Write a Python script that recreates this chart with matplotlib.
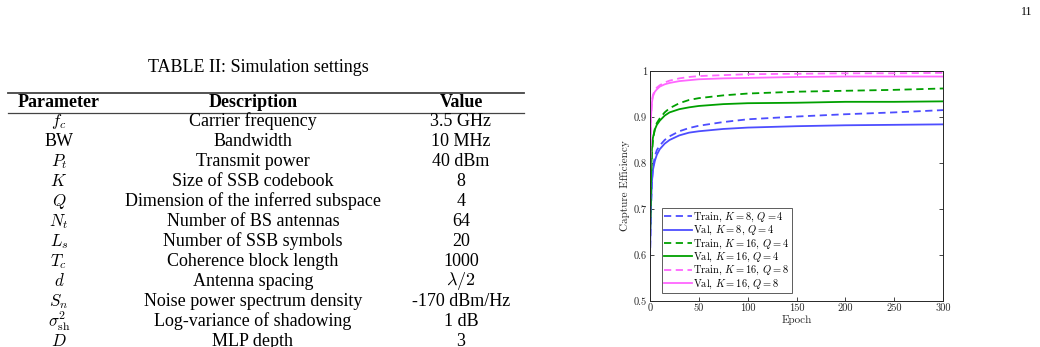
import matplotlib
matplotlib.use("Agg")
import matplotlib.pyplot as plt
from matplotlib.lines import Line2D
from matplotlib.ticker import FuncFormatter, MultipleLocator

plt.rcParams['mathtext.fontset'] = 'cm'

# ---------------- data ----------------
table_title = "TABLE II: Simulation settings"
table_header = ["Parameter", "Description", "Value"]
param_symbols = [r"$f_c$", "BW", r"$P_t$", r"$K$", r"$Q$", r"$N_t$", r"$L_s$",
                 r"$T_c$", r"$d$", r"$S_n$", r"$\sigma^2_{\rm sh}$", r"$D$"]
param_desc = ["Carrier frequency", "Bandwidth", "Transmit power", "Size of SSB codebook",
              "Dimension of the inferred subspace", "Number of BS antennas",
              "Number of SSB symbols", "Coherence block length", "Antenna spacing",
              "Noise power spectrum density", "Log-variance of shadowing", "MLP depth"]
param_values = ["3.5 GHz", "10 MHz", "40 dBm", "8", "4", "64", "20", "1000",
                r"$\lambda/2$", "-170 dBm/Hz", "1 dB", "3"]

epochs = [0, 1, 2, 3, 5, 7, 10, 15, 20, 30, 40, 50, 75, 100, 150, 200, 250, 300]
train_k8_q4 = [0.59, 0.70, 0.76, 0.79, 0.815, 0.828, 0.838, 0.850, 0.858, 0.869, 0.876,
               0.881, 0.889, 0.895, 0.901, 0.906, 0.910, 0.915]
val_k8_q4 = [0.60, 0.71, 0.76, 0.785, 0.805, 0.818, 0.830, 0.842, 0.850, 0.860, 0.866,
             0.869, 0.874, 0.877, 0.880, 0.882, 0.883, 0.884]
train_k16_q4 = [0.63, 0.76, 0.82, 0.85, 0.875, 0.887, 0.897, 0.910, 0.919, 0.930, 0.937,
                0.941, 0.947, 0.951, 0.955, 0.957, 0.959, 0.962]
val_k16_q4 = [0.64, 0.77, 0.83, 0.855, 0.873, 0.883, 0.892, 0.903, 0.910, 0.917, 0.921,
              0.924, 0.928, 0.930, 0.931, 0.933, 0.933, 0.934]
train_k16_q8 = [0.76, 0.90, 0.935, 0.948, 0.958, 0.964, 0.969, 0.975, 0.979, 0.984, 0.987,
                0.989, 0.991, 0.993, 0.994, 0.995, 0.995, 0.996]
val_k16_q8 = [0.77, 0.90, 0.932, 0.945, 0.955, 0.960, 0.966, 0.971, 0.974, 0.978, 0.980,
              0.982, 0.984, 0.985, 0.987, 0.988, 0.988, 0.988]

series = [
    (r"Train, $K = 8$, $Q = 4$", train_k8_q4, "#4d4dff", "--"),
    (r"Val, $K = 8$, $Q = 4$", val_k8_q4, "#4d4dff", "-"),
    (r"Train, $K = 16$, $Q = 4$", train_k16_q4, "#00a000", "--"),
    (r"Val, $K = 16$, $Q = 4$", val_k16_q4, "#00a000", "-"),
    (r"Train, $K = 16$, $Q = 8$", train_k16_q8, "#ff66ff", "--"),
    (r"Val, $K = 16$, $Q = 8$", val_k16_q8, "#ff66ff", "-"),
]

# ---------------- figure ----------------
W, H = 1040, 347
fig = plt.figure(figsize=(W / 100, H / 100), dpi=100)
fig.patch.set_facecolor("white")

def fx(px):
    return px / W

def fy(py):
    return 1 - py / H

serif = "Liberation Serif"
tfs = 13.0
sfs = 12.2

# page number
fig.text(fx(1027), fy(12), "11", family=serif, fontsize=8.5, ha="center", va="center")

# table
fig.text(fx(258), fy(68), table_title, family=serif, fontsize=tfs, ha="center", va="center")
fig.add_artist(Line2D([fx(8), fx(524)], [fy(92.5), fy(92.5)], color="#444444", lw=1.3))
fig.add_artist(Line2D([fx(8), fx(524)], [fy(112.5), fy(112.5)], color="#444444", lw=0.9))
col_x = [59, 253, 461]
for cx, h in zip(col_x, table_header):
    fig.text(fx(cx), fy(102), h, family=serif, fontsize=tfs, weight="bold",
             ha="center", va="center")
for i, (s, d, v) in enumerate(zip(param_symbols, param_desc, param_values)):
    y = 121.5 + 20 * i
    sym_size = sfs if s.startswith("$") else tfs
    fig.text(fx(col_x[0]), fy(y), s, family=serif, fontsize=sym_size, ha="center", va="center")
    fig.text(fx(col_x[1]), fy(y), d, family=serif, fontsize=tfs, ha="center", va="center")
    fig.text(fx(col_x[2]), fy(y), v, family=serif, fontsize=tfs, ha="center", va="center")

# chart
ax_l, ax_r, ax_t, ax_b = 650, 943, 71, 301
ax = fig.add_axes([fx(ax_l), fy(ax_b), fx(ax_r) - fx(ax_l), fy(ax_t) - fy(ax_b)])
for lab, vals, col, ls in series:
    if ls == "--":
        ax.plot(epochs, vals, color=col, ls=ls, lw=1.3, dashes=(4, 2.5), label=lab)
    else:
        ax.plot(epochs, vals, color=col, ls=ls, lw=1.3, label=lab)

ax.set_xlim(0, 300)
ax.set_ylim(0.5, 1.0)
ax.xaxis.set_major_locator(MultipleLocator(50))
ax.yaxis.set_major_locator(MultipleLocator(0.1))
ax.yaxis.set_major_formatter(FuncFormatter(lambda v, p: "%g" % round(v, 2)))
ax.tick_params(direction="in", top=True, right=True, length=3, width=0.6,
               labelsize=7.5, pad=2, colors="#262626")
for lbl in ax.get_xticklabels() + ax.get_yticklabels():
    lbl.set_family("cmr10")
for sp in ax.spines.values():
    sp.set_linewidth(0.7)
    sp.set_color("#262626")
ax.set_xlabel("Epoch", family="cmr10", fontsize=8, labelpad=1, color="#262626")
ax.set_ylabel("Capture Efficiency", family="cmr10", fontsize=8, labelpad=3, color="#262626")

aw, ah = ax_r - ax_l, ax_b - ax_t
leg = ax.legend(loc="lower left", bbox_to_anchor=(12 / aw, 8 / ah), borderaxespad=0,
                frameon=True, fancybox=False, handlelength=2.7, handletextpad=0.1,
                labelspacing=0.0, borderpad=0.22, prop={"family": "cmr10", "size": 7.5})
leg.get_frame().set_edgecolor("#333333")
leg.get_frame().set_linewidth(0.7)

fig.savefig("out.png", dpi=100)
